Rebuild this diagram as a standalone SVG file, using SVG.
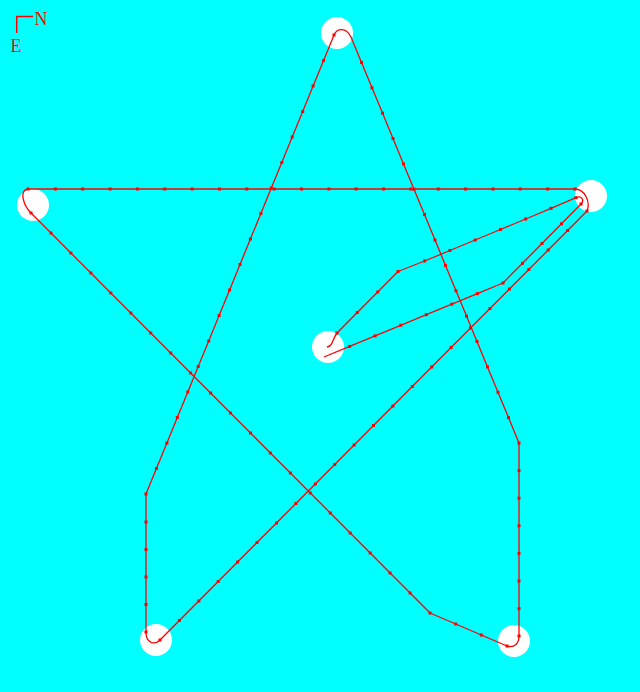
<svg xmlns="http://www.w3.org/2000/svg" width="640" height="692" viewBox="0 0 640 692">
<style>
.stop{fill:#ffffff;stroke:none}
.track{fill:none;stroke:#ff0000;stroke-width:1.3;stroke-linejoin:round;marker-mid:url(#dot)}
.lbl{font-family:"Liberation Serif",serif;font-size:18px;fill:#ff0000}
</style>
<defs>
<marker id="dot" markerUnits="userSpaceOnUse" markerWidth="3" markerHeight="3" refX="1.1" refY="1.1" viewBox="0 0 2.2 2.2" overflow="visible">
<rect x="0" y="0" width="2.2" height="2.2" fill="#ff0000"/>
</marker>
</defs>
<rect x="0" y="0" width="640" height="692" fill="#00ffff"/>
<g id="compass">
<path d="M16.7,33 V16.5 H33" fill="none" stroke="#ff0000" stroke-width="1.5"/>
<text class="lbl" x="34.5" y="25">N</text>
<text class="lbl" x="10.5" y="52">E</text>
</g>
<g id="stop-top"><circle class="stop" cx="337" cy="33" r="16"/></g>
<g id="stop-left"><circle class="stop" cx="33" cy="205" r="16"/></g>
<g id="stop-right"><circle class="stop" cx="591" cy="196" r="16"/></g>
<g id="stop-center"><circle class="stop" cx="328" cy="347" r="16"/></g>
<g id="stop-bottom-left"><circle class="stop" cx="156" cy="640" r="16"/></g>
<g id="stop-bottom-right"><circle class="stop" cx="514" cy="641" r="16"/></g>
<g id="connectors">
<path class="track" d="M351,37 L361.5,62.4 L372,87.8 L382.5,113.1 L393,138.5 L403.5,163.9 L414,189.3 L424.5,214.6 L435,240 L445.5,265.4 L456,290.8 L466.5,316.1 L477,341.5 L487.5,366.9 L498,392.3 L508.5,417.6 L519,443 L519,470.6 L519,498.2 L519,525.8 L519,553.4 L519,581 L519,608.6 L519,636 C519,644 514,648 507,646 L481.3,635 L455.7,624 L430,613 L410.1,593 L390.1,573 L370.2,553 L350.2,533 L330.3,513 L310.3,493 L290.4,473 L270.4,453 L250.5,433 L230.5,413 L210.6,393 L190.6,373 L170.7,353 L150.7,333 L130.8,313 L110.8,293 L90.9,273 L70.9,253 L51,233 L31,213 C23,205 19,190 28,189 L55.4,189 L82.7,189 L110.1,189 L137.4,189 L164.8,189 L192.1,189 L219.5,189 L246.8,189 L274.2,189 L301.5,189 L328.9,189 L356.2,189 L383.6,189 L410.9,189 L438.3,189 L465.6,189 L493,189 L520.3,189 L547.7,189 L575,189 C584,189 591,201 587,211 L567.6,230.5 L548.2,250 L528.8,269.5 L509.4,289 L490,308.5 L470.5,328 L451.1,347.5 L431.7,367 L412.3,386.5 L392.9,406 L373.5,425.5 L354.1,445 L334.7,464.5 L315.3,484 L295.9,503.5 L276.5,523 L257,542.5 L237.6,562 L218.2,581.5 L198.8,601 L179.4,620.5 L160,640 C155,645 146,644 146,632 L146,604.5 L146,577 L146,549.5 L146,522 L146,494 L156.4,468.5 L166.9,443 L177.3,417.5 L187.8,392 L198.2,366.5 L208.7,341 L219.1,315.5 L229.6,290 L240,264.5 L250.4,239 L260.9,213.5 L271.3,188 L281.8,162.5 L292.2,137 L302.7,111.5 L313.1,86 L323.6,60.5 L334,35 C337,28 346,27 351,37"/>
<path class="track" d="M324,357 L349.6,346.4 L375.1,335.9 L400.7,325.3 L426.3,314.7 L451.9,304.1 L477.4,293.6 L503,283 L522.5,263.3 L542,243.5 L561.5,223.8 L581,204 C585,200 581,195 576,197.7 L551,208.3 L525.7,219 L500.5,229.5 L475.2,240 L449.9,250.5 L424.6,261 L398,271.5 L377.7,292 L357.3,312.5 L337,333 C332,340 333,346 327,347"/>
</g>
</svg>
